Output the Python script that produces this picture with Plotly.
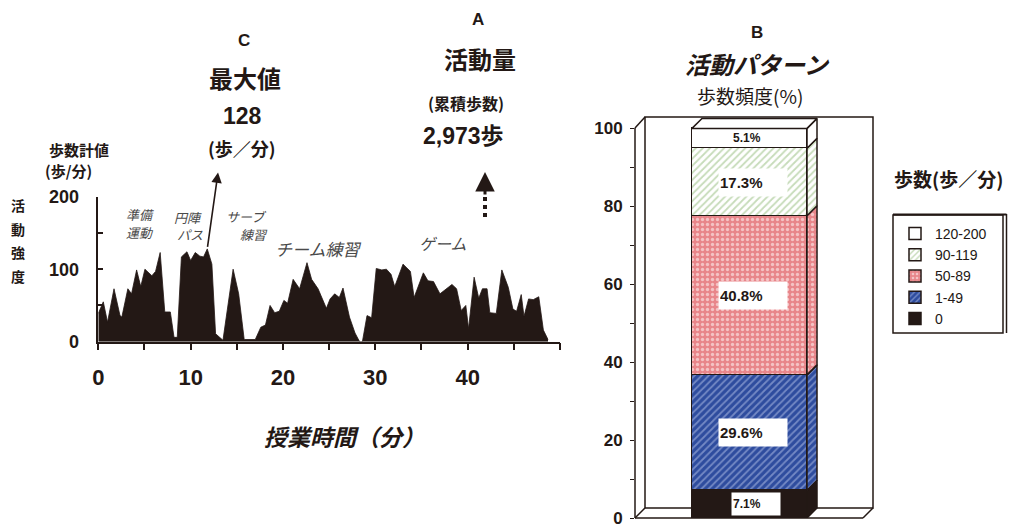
import plotly.graph_objects as go

# ---------------- data ----------------
minutes = [0.0, 0.54, 1.0, 1.7, 2.35, 2.55, 3.2, 3.6, 4.15, 4.6, 5.05, 5.8, 6.2, 6.7, 7.2, 7.8, 8.2, 8.55,
           9.0, 9.6, 10.0, 10.5, 11.0, 11.4, 11.8, 12.3, 12.7, 13.2, 13.5, 14.6, 15.2, 15.8, 17.0, 17.6,
           18.1, 18.6, 19.1, 19.6, 20.1, 20.5, 21.1, 21.8, 22.6, 23.1, 23.8, 24.7, 25.1, 25.6, 26.1, 26.5,
           27.2, 27.8, 28.3, 28.6, 29.1, 29.6, 30.1, 30.7, 31.2, 31.7, 32.1, 33.0, 33.8, 34.2, 35.2, 35.7,
           36.3, 37.0, 37.7, 38.3, 38.8, 39.3, 39.8, 40.1, 40.7, 41.2, 41.6, 42.1, 42.4, 43.1, 43.7, 44.4,
           44.9, 45.3, 45.8, 46.1, 46.6, 47.1, 47.7, 48.2, 48.7]
steps_per_min = [39, 55, 27, 73, 36, 34, 73, 66, 99, 76, 100, 91, 97, 123, 41, 41, 6, 6, 117, 124,
                 112, 123, 118, 117, 128, 107, 11, 5, 2, 100, 66, 3, 3, 20, 23, 50, 40, 42, 57, 53,
                 86, 73, 109, 86, 73, 46, 59, 66, 61, 74, 34, 12, 0, 0, 36, 33, 101, 99, 100, 93,
                 76, 107, 97, 61, 95, 84, 83, 66, 73, 79, 73, 43, 50, 18, 89, 60, 73, 73, 40, 39,
                 99, 75, 45, 42, 65, 35, 59, 58, 62, 16, 3]
max_value = 128
max_minute = 11.8

x_tickvals = [0, 5, 10, 15, 20, 25, 30, 35, 40, 45, 50]
x_ticktext = ["0", "", "10", "", "20", "", "30", "", "40", "", ""]
y_tickvals = [0, 50, 100, 150, 200]
y_ticktext = ["0", "", "100", "", "200"]

bins = ["0", "1-49", "50-89", "90-119", "120-200"]
pct = [7.1, 29.6, 40.8, 17.3, 5.1]
pct_labels = ["7.1%", "29.6%", "40.8%", "17.3%", "5.1%"]
y2_tickvals = [0, 10, 20, 30, 40, 50, 60, 70, 80, 90, 100]
y2_ticktext = ["0", "", "20", "", "40", "", "60", "", "80", "", "100"]

# ---------------- styles ----------------
W, H = 1015, 524
BLACK = "#231815"
CJK = "Noto Sans CJK JP"
NUM = "Liberation Sans Narrow, Liberation Sans, Noto Sans CJK JP"
SANS = "Liberation Sans, Arial, Noto Sans CJK JP"

bar_bg = [BLACK, "#2e4c9e", "#e8868a", "white", "white"]
bar_fg = [BLACK, "#b9c5ea", "white", "#8db873", "white"]
bar_shape = ["", "/", ".", "/", ""]
bar_solid = [0.3, 0.35, 0.35, 0.35, 0.3]


def X(p):
    return p / W


def Y(p):
    return 1 - p / H


fig = go.Figure()

# ---------------- left: step count over time ----------------
fig.add_trace(go.Scatter(
    x=minutes, y=steps_per_min, mode="lines", fill="tozeroy",
    line=dict(color=BLACK, width=0.8), fillcolor=BLACK,
    xaxis="x", yaxis="y", showlegend=False, hoverinfo="x+y"))

# ---------------- right: stacked 3D-like bar ----------------
bar_w = 1.0
dx = 10 / 115.0   # depth in x units
dy = 10 / 3.9     # depth in y units
for i, name in enumerate(bins):
    fig.add_trace(go.Bar(
        x=[0], y=[pct[i]], width=bar_w, name=name, xaxis="x2", yaxis="y2",
        marker=dict(color=bar_bg[i], line=dict(color=BLACK, width=1.5),
                    pattern=dict(shape=bar_shape[i], fgcolor=bar_fg[i], bgcolor=bar_bg[i],
                                 size=5, solidity=bar_solid[i])),
        showlegend=True))

cum = 0.0
for i, name in enumerate(bins):
    b, t = cum, cum + pct[i]
    cum = t
    xr = bar_w / 2
    fig.add_trace(go.Scatter(
        x=[xr, xr + dx, xr + dx, xr, xr], y=[b, b + dy, t + dy, t, b],
        mode="lines", fill="toself", fillcolor=bar_bg[i],
        fillpattern=dict(shape=bar_shape[i], fgcolor=bar_fg[i], bgcolor=bar_bg[i],
                         size=5, solidity=bar_solid[i]),
        line=dict(color=BLACK, width=1.5), xaxis="x2", yaxis="y2",
        showlegend=False, hoverinfo="skip"))
# top face
top = cum
fig.add_trace(go.Scatter(
    x=[-bar_w / 2, bar_w / 2, bar_w / 2 + dx, -bar_w / 2 + dx, -bar_w / 2],
    y=[top, top, top + dy, top + dy, top], mode="lines", fill="toself",
    fillcolor="white", line=dict(color=BLACK, width=1.5), xaxis="x2", yaxis="y2",
    showlegend=False, hoverinfo="skip"))

# ---------------- annotations ----------------
ann = []


def text(x, y, s, size, family=CJK, bold=True, italic=False, color=BLACK, **kw):
    d = dict(x=X(x), y=Y(y), xref="paper", yref="paper", text=s, showarrow=False,
             font=dict(family=family, size=size, color=color,
                       weight="bold" if bold else "normal",
                       style="italic" if italic else "normal"),
             xanchor=kw.pop("xanchor", "center"), yanchor=kw.pop("yanchor", "middle"))
    d.update(kw)
    ann.append(d)


# C block
text(244, 41, "C", 17, family=SANS)
text(245, 77, "最大値", 24)
text(242, 116, str(max_value), 23, family=NUM)
text(242, 148, "(歩／分)", 18)
# A block
text(478, 20, "A", 17, family=SANS)
text(480, 58, "活動量", 24)
text(466, 103, "(累積歩数)", 16)
text(463, 136, "2,973歩", 23, family=NUM)
# left axis titles
text(47, 149, "歩数計値", 15, xanchor="left")
text(43, 170, "(歩/分)", 15, xanchor="left")
for k, ch in enumerate("活動強度"):
    text(18, 205 + 23.5 * k, ch, 14)
# activity labels
GRAY = "#4a4a4a"
text(140, 214, "準備", 13, bold=False, italic=True, color=GRAY)
text(140, 233, "運動", 13, bold=False, italic=True, color=GRAY)
text(188, 217, "円陣", 13, bold=False, italic=True, color=GRAY)
text(190, 234, "パス", 13, bold=False, italic=True, color=GRAY)
text(246, 216, "サーブ", 13, bold=False, italic=True, color=GRAY)
text(254, 234, "練習", 13, bold=False, italic=True, color=GRAY)
text(318, 248, "チーム練習", 17, bold=False, italic=True, color=GRAY)
text(443, 243, "ゲーム", 16, bold=False, italic=True, color=GRAY)
# x title
text(344, 436, "授業時間（分）", 23, italic=True)
# right titles
text(757, 33, "B", 17, family=SANS)
text(757, 63, "活動パターン", 24, italic=True)
text(750, 95, "歩数頻度(%)", 19, bold=False)
text(892, 179, "歩数(歩／分)", 19, xanchor="left")

# max arrow
ann.append(dict(x=max_minute, y=max_value, xref="x", yref="y", text="", showarrow=True,
                ax=11, ay=-78, arrowside="start", startarrowhead=2, startarrowsize=1.3,
                arrowwidth=1.6, arrowcolor=BLACK, standoff=2, startstandoff=0))
# cumulative arrow head
ann.append(dict(x=X(485), y=Y(172), xref="paper", yref="paper", text="", showarrow=True,
                ax=0, ay=24, arrowhead=2, arrowsize=1.3, arrowwidth=3, arrowcolor=BLACK))

# bar value labels
cum = 0.0
for i, lab in enumerate(pct_labels):
    mid = cum + pct[i] / 2
    cum += pct[i]
    big = pct[i] > 10
    ann.append(dict(x=0.03 if big else 0.06, y=mid, xref="x2", yref="y2", text=lab, showarrow=False,
                    font=dict(family=NUM, size=15 if big else 12, color=BLACK, weight="bold"),
                    bgcolor="white" if i < 4 else "rgba(0,0,0,0)",
                    width=66 if big else 46, height=25 if big else 20, align="left"))

# ---------------- shapes (3D frame of the bar panel, legend box, dotted arrow) ----------------
def line(x0, y0, x1, y1, width=1.5, dash="solid"):
    return dict(type="line", xref="paper", yref="paper", x0=X(x0), y0=Y(y0), x1=X(x1), y1=Y(y1),
                line=dict(color=BLACK, width=width, dash=dash), layer="below")


shapes = [
    dict(type="rect", xref="paper", yref="paper", x0=X(645), y0=Y(508), x1=X(873), y1=Y(117),
         line=dict(color=BLACK, width=1.5), layer="below"),
    line(635, 128, 635, 518),
    line(635, 518, 863, 518),
    line(635, 128, 645, 117),
    line(635, 518, 645, 508),
    line(863, 518, 873, 508),
    dict(type="rect", xref="paper", yref="paper", x0=X(893), y0=Y(333), x1=X(1003), y1=Y(215),
         line=dict(color=BLACK, width=1.5), layer="below"),
    line(1006.5, 214, 1006.5, 333, 1.5),
    line(893, 214.5, 1006.5, 214.5, 2),
    dict(type="line", xref="paper", yref="paper", x0=X(485), y0=Y(197), x1=X(485), y1=Y(217),
         line=dict(color=BLACK, width=4, dash="dot")),
]

axis_font_l = dict(family=NUM, size=18, color=BLACK, weight="bold")
fig.update_layout(
    width=W, height=H, margin=dict(l=0, r=0, t=0, b=0, autoexpand=False),
    paper_bgcolor="white", plot_bgcolor="rgba(0,0,0,0)",
    barmode="stack", bargap=0,
    xaxis=dict(domain=[X(98.3), X(560)], range=[0, 50], tickvals=x_tickvals, ticktext=x_ticktext,
               showline=True, linecolor=BLACK, linewidth=1.5, ticks="outside", ticklen=7,
               tickwidth=1.5, tickcolor=BLACK, showgrid=False, zeroline=False, automargin=False,
               tickfont=dict(family=NUM, size=22, color=BLACK, weight="bold"),
               ticklabelstandoff=8, anchor="y"),
    yaxis=dict(domain=[Y(341.7), Y(196.7)], range=[0, 200], tickvals=y_tickvals, ticktext=y_ticktext,
               showline=True, linecolor=BLACK, linewidth=1.5, ticks="inside", ticklen=5,
               tickwidth=1.5, tickcolor=BLACK, showgrid=False, zeroline=False, automargin=False,
               tickfont=axis_font_l, ticklabelstandoff=14, anchor="x"),
    xaxis2=dict(domain=[X(635), X(873)], range=[-0.9957, 1.0739], visible=False, anchor="y2",
                automargin=False),
    yaxis2=dict(domain=[Y(518), Y(117)], range=[0, 102.82], tickvals=y2_tickvals, ticktext=y2_ticktext,
                showline=False, ticks="outside", ticklen=4, tickwidth=1.2, tickcolor=BLACK,
                showgrid=False, zeroline=False, anchor="x2", automargin=False,
                ticklabeloverflow="allow",
                tickfont=dict(family=NUM, size=17, color=BLACK, weight="bold"), ticklabelstandoff=4),
    legend=dict(x=X(895), y=Y(218), xanchor="left", yanchor="top", traceorder="reversed",
                borderwidth=0, bgcolor="rgba(0,0,0,0)",
                font=dict(family=SANS, size=14, color=BLACK), tracegroupgap=0,
                itemclick=False, itemdoubleclick=False),
    annotations=ann, shapes=shapes,
)

fig.write_html("out.html")
